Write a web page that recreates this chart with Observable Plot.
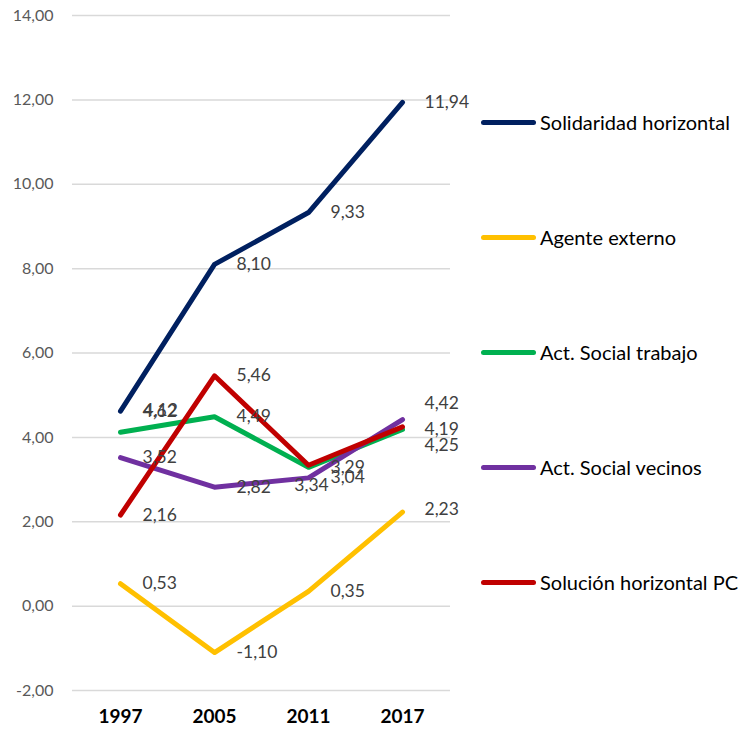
<!DOCTYPE html>
<html>
<head>
<meta charset="utf-8">
<script src="https://cdn.jsdelivr.net/npm/d3@7"></script>
<script src="https://cdn.jsdelivr.net/npm/@observablehq/plot@0.6"></script>
<style>
  html, body { margin: 0; padding: 0; background: #fff; }
  #wrap { position: relative; width: 749px; height: 729px; font-family: Lato, "Open Sans", sans-serif; }
  #legend { position: absolute; left: 481px; top: 108px; display: flex; flex-direction: column; gap: 87px; }
  .item { display: flex; align-items: center; height: 28px; font-size: 20px; color: #000; white-space: nowrap; }
  .sw { width: 55px; height: 5px; margin-right: 4px; border-radius: 2.5px; }
</style>
</head>
<body>
<div id="wrap"></div>
<script>
const years = ["1997", "2005", "2011", "2017"];
const seriesNames = ["Solidaridad horizontal", "Agente externo", "Act. Social trabajo", "Act. Social vecinos", "Solución horizontal PC"];
const solidaridadHorizontal = [4.62, 8.10, 9.33, 11.94];
const agenteExterno = [0.53, -1.10, 0.35, 2.23];
const actSocialTrabajo = [4.12, 4.49, 3.29, 4.19];
const actSocialVecinos = [3.52, 2.82, 3.04, 4.42];
const solucionHorizontalPC = [2.16, 5.46, 3.34, 4.25];
const seriesColors = ["#002060", "#FFC000", "#00B050", "#7030A0", "#C00000"];
const yTicks = [-2, 0, 2, 4, 6, 8, 10, 12, 14];

const seriesValues = [solidaridadHorizontal, agenteExterno, actSocialTrabajo, actSocialVecinos, solucionHorizontalPC];
const rows = [];
seriesNames.forEach((s, i) => years.forEach((y, j) => rows.push({series: s, year: y, value: seriesValues[i][j]})));

// label placement overrides (layout only)
const labelNudges = {
  "Act. Social trabajo|1997": {dx: 23, dy: -22, anchor: "start"},
  "Solución horizontal PC|2011": {dx: 3, dy: 20, anchor: "middle"},
  "Solución horizontal PC|2017": {dx: 22, dy: 19, anchor: "start"},
  "Act. Social vecinos|2017": {dx: 22, dy: -16, anchor: "start"},
  "Agente externo|2017": {dx: 22, dy: -3, anchor: "start"}
};
const key = d => d.series + "|" + d.year;
const fmt = v => v.toFixed(2).replace(".", ",");

const labelStyle = {fontSize: 17.5, fill: "#404040", fontFamily: "Lato, 'Open Sans', sans-serif"};
const textMarks = [
  Plot.text(rows.filter(d => !labelNudges[key(d)]), {x: "year", y: "value", text: d => fmt(d.value), dx: 22, textAnchor: "start", ...labelStyle})
];
for (const [k, n] of Object.entries(labelNudges)) {
  textMarks.push(Plot.text(rows.filter(d => key(d) === k), {x: "year", y: "value", text: d => fmt(d.value), dx: n.dx, dy: n.dy, textAnchor: n.anchor, ...labelStyle}));
}

const chart = Plot.plot({
  width: 749, height: 729,
  marginLeft: 72, marginRight: 299, marginTop: 15, marginBottom: 39,
  style: {fontFamily: "Lato, 'Open Sans', sans-serif", background: "#fff"},
  x: {type: "point", domain: years, padding: 0.5, label: null},
  y: {domain: [-2, 14], label: null},
  color: {domain: seriesNames, range: seriesColors},
  marks: [
    Plot.ruleY(yTicks, {stroke: "#d9d9d9", strokeWidth: 1.5}),
    Plot.axisY({ticks: yTicks, tickSize: 0, tickPadding: 19, tickFormat: fmt, fontSize: 16, color: "#595959", label: null}),
    Plot.axisX({tickSize: 0, tickPadding: 19, fontSize: 19, fontWeight: "bold", color: "#000", label: null}),
    Plot.line(rows, {x: "year", y: "value", z: "series", stroke: "series", strokeWidth: 5, strokeLinejoin: "round", strokeLinecap: "round"}),
    ...textMarks
  ]
});

const wrap = document.getElementById("wrap");
wrap.appendChild(chart);
const legend = document.createElement("div");
legend.id = "legend";
seriesNames.forEach((s, i) => {
  const item = document.createElement("div");
  item.className = "item";
  const sw = document.createElement("span");
  sw.className = "sw";
  sw.style.background = seriesColors[i];
  item.appendChild(sw);
  item.appendChild(document.createTextNode(s));
  legend.appendChild(item);
});
wrap.appendChild(legend);
</script>
</body>
</html>
